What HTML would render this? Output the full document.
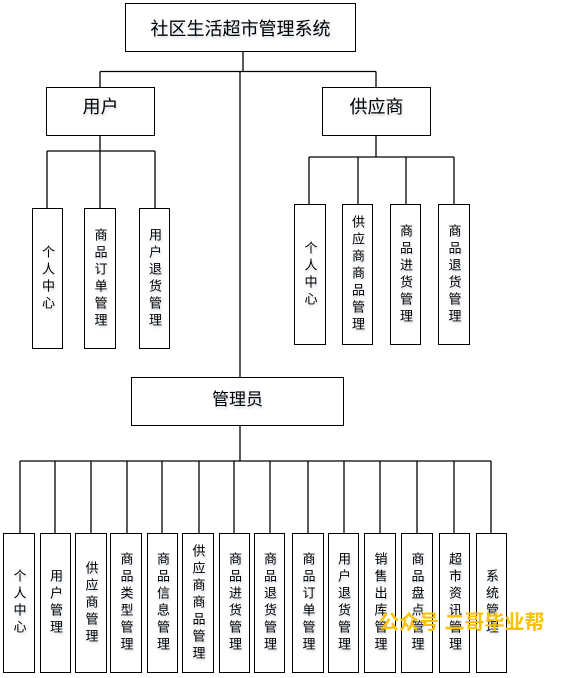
<!DOCTYPE html>
<html><head><meta charset="utf-8"><style>
body{margin:0;width:575px;height:678px;background:#fff;position:relative;overflow:hidden;font-family:"Liberation Sans","Noto Sans CJK SC",sans-serif;}
.b{position:absolute;border:1.3px solid #000;box-sizing:border-box;background:#fff;display:flex;align-items:center;justify-content:center;color:#000;text-shadow:1px 2px 2px rgba(120,140,170,.35);}
.v{writing-mode:vertical-rl;font-size:13px;letter-spacing:4px;line-height:1;}
svg{position:absolute;left:0;top:0;}
</style></head><body>
<svg width="575" height="678"><g stroke="#000" stroke-width="1.3" fill="none">
<line x1="243" y1="51" x2="243" y2="71.5"/>
<line x1="100" y1="71.5" x2="376" y2="71.5"/>
<line x1="240" y1="71.5" x2="240" y2="377"/>
<line x1="100" y1="71.5" x2="100" y2="87"/>
<line x1="376" y1="71.5" x2="376" y2="87"/>
<line x1="100" y1="135" x2="100" y2="151"/>
<line x1="47" y1="151" x2="155" y2="151"/>
<line x1="47" y1="151" x2="47" y2="208"/><line x1="100" y1="151" x2="100" y2="208"/><line x1="155" y1="151" x2="155" y2="208"/>
<line x1="376" y1="135" x2="376" y2="157"/>
<line x1="309" y1="157" x2="454" y2="157"/>
<line x1="309" y1="157" x2="309" y2="204"/><line x1="358" y1="157" x2="358" y2="204"/><line x1="406" y1="157" x2="406" y2="204"/><line x1="454" y1="157" x2="454" y2="204"/>
<line x1="240" y1="426" x2="240" y2="461"/>
<line x1="20" y1="461" x2="491" y2="461"/>
<line x1="20" y1="461" x2="20" y2="533"/><line x1="55" y1="461" x2="55" y2="533"/><line x1="91" y1="461" x2="91" y2="533"/><line x1="127" y1="461" x2="127" y2="533"/><line x1="162" y1="461" x2="162" y2="533"/><line x1="199" y1="461" x2="199" y2="533"/><line x1="234" y1="461" x2="234" y2="533"/><line x1="270" y1="461" x2="270" y2="533"/><line x1="308" y1="461" x2="308" y2="533"/><line x1="344" y1="461" x2="344" y2="533"/><line x1="380" y1="461" x2="380" y2="533"/><line x1="417" y1="461" x2="417" y2="533"/><line x1="454" y1="461" x2="454" y2="533"/><line x1="491" y1="461" x2="491" y2="533"/>
</g></svg>

<div class="b" style="left:125px;top:3px;width:231px;height:49px;font-size:18px;">社区生活超市管理系统</div>
<div class="b" style="left:46px;top:87px;width:109px;height:49px;font-size:18px;padding-bottom:12px;">用户</div>
<div class="b" style="left:322px;top:87px;width:109px;height:49px;font-size:18px;padding-bottom:12px;">供应商</div>
<div class="b" style="left:131px;top:377px;width:213px;height:49px;font-size:17px;padding-bottom:8px;">管理员</div>

<div class="b v" style="left:32px;top:208px;width:31px;height:141px;">个人中心</div>
<div class="b v" style="left:84px;top:208px;width:32px;height:141px;">商品订单管理</div>
<div class="b v" style="left:139px;top:208px;width:31px;height:141px;">用户退货管理</div>

<div class="b v" style="left:294px;top:204px;width:32px;height:141px;">个人中心</div>
<div class="b v" style="left:342px;top:204px;width:31px;height:141px;">供应商商品管理</div>
<div class="b v" style="left:390px;top:204px;width:31px;height:141px;">商品进货管理</div>
<div class="b v" style="left:438px;top:204px;width:32px;height:141px;">商品退货管理</div>

<div class="b v" style="left:3px;top:533px;width:32px;height:140px;">个人中心</div>
<div class="b v" style="left:40px;top:533px;width:31px;height:140px;">用户管理</div>
<div class="b v" style="left:75px;top:533px;width:32px;height:140px;">供应商管理</div>
<div class="b v" style="left:110px;top:533px;width:32px;height:140px;">商品类型管理</div>
<div class="b v" style="left:147px;top:533px;width:31px;height:140px;">商品信息管理</div>
<div class="b v" style="left:182px;top:533px;width:32px;height:140px;">供应商商品管理</div>
<div class="b v" style="left:219px;top:533px;width:31px;height:140px;">商品进货管理</div>
<div class="b v" style="left:254px;top:533px;width:31px;height:140px;">商品退货管理</div>
<div class="b v" style="left:292px;top:533px;width:32px;height:140px;">商品订单管理</div>
<div class="b v" style="left:328px;top:533px;width:31px;height:140px;">用户退货管理</div>
<div class="b v" style="left:364px;top:533px;width:32px;height:140px;">销售出库管理</div>
<div class="b v" style="left:401px;top:533px;width:32px;height:140px;">商品盘点管理</div>
<div class="b v" style="left:439px;top:533px;width:31px;height:140px;">超市资讯管理</div>
<div class="b v" style="left:476px;top:533px;width:31px;height:140px;">系统管理</div>

<div style="position:absolute;left:379px;top:606px;font-size:20px;font-weight:bold;color:#f7c200;white-space:nowrap;">公众号 二哥毕业帮</div>
</body></html>
